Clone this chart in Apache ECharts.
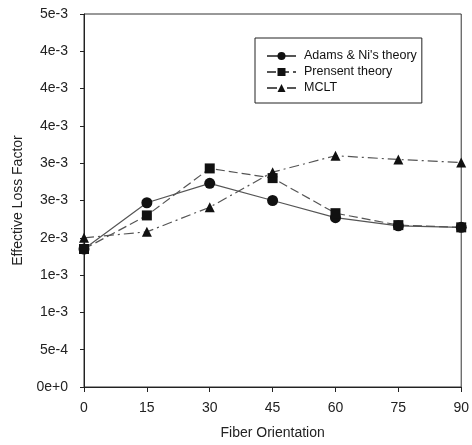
<!DOCTYPE html>
<html><head><meta charset="utf-8">
<script src="https://cdn.jsdelivr.net/npm/echarts@6/dist/echarts.min.js"></script>
<style>html,body{margin:0;padding:0;background:#fff}#c{width:472px;height:445px}</style>
</head><body><div id="c"></div>
<script>
const categories = [0, 15, 30, 45, 60, 75, 90];
const adams = [1.85e-3, 2.47e-3, 2.73e-3, 2.50e-3, 2.27e-3, 2.16e-3, 2.14e-3];
const present = [1.85e-3, 2.30e-3, 2.93e-3, 2.80e-3, 2.33e-3, 2.17e-3, 2.14e-3];
const mclt = [2.00e-3, 2.08e-3, 2.41e-3, 2.88e-3, 3.10e-3, 3.05e-3, 3.01e-3];
const yTickLabels = ['0e+0','5e-4','1e-3','1e-3','2e-3','3e-3','3e-3','4e-3','4e-3','4e-3','5e-3'];
const seriesNames = ['Adams & Ni\'s theory', 'Prensent theory', 'MCLT'];

const chart = echarts.init(document.getElementById('c'));
const font = 'Liberation Sans, Arial, sans-serif';
function mk(name, data, symbol, lineType, size) {
  return {
    name, type: 'line', data: categories.map((c, i) => [c, data[i]]),
    symbol, symbolSize: size,
    itemStyle: { color: '#111' },
    lineStyle: { color: '#555', width: 1.2, type: lineType },
    z: 2
  };
}
chart.setOption({
  animation: false,
  textStyle: { fontFamily: font },
  grid: { left: 84, top: 14, width: 378, height: 373, show: true, borderColor: '#333', borderWidth: 1, backgroundColor: 'transparent' },
  xAxis: {
    type: 'value', min: 0, max: 90, interval: 15,
    name: 'Fiber Orientation', nameLocation: 'middle', nameGap: 39,
    nameTextStyle: { fontSize: 14, color: '#222', fontFamily: font },
    axisLine: { show: true, lineStyle: { color: '#222' } },
    axisTick: { show: true, inside: false, length: 5, lineStyle: { color: '#222' } },
    axisLabel: { fontSize: 14, color: '#222', margin: 14, fontFamily: font },
    splitLine: { show: false }
  },
  yAxis: {
    type: 'value', min: 0, max: 5e-3, interval: 5e-4,
    name: 'Effective Loss Factor', nameLocation: 'middle', nameGap: 57, nameRotate: 90,
    nameTextStyle: { fontSize: 14, color: '#222', fontFamily: font },
    axisLine: { show: true, lineStyle: { color: '#222' } },
    axisTick: { show: true, length: 4, lineStyle: { color: '#222' } },
    axisLabel: { fontSize: 14, color: '#222', margin: 16, fontFamily: font,
      formatter: (v, i) => yTickLabels[i] },
    splitLine: { show: false }
  },
  legend: {
    orient: 'vertical', left: 255, top: 38,
    data: seriesNames,
    backgroundColor: '#fff', borderColor: '#222', borderWidth: 1,
    padding: [11, 5, 8, 11], itemGap: 2, itemWidth: 29, itemHeight: 10,
    textStyle: { fontSize: 12.5, lineHeight: 14, color: '#111', fontFamily: font, padding: [0, 0, 0, 3] }
  },
  series: [
    mk(seriesNames[0], adams, 'circle', 'solid', 11),
    mk(seriesNames[1], present, 'rect', [9, 4], 10),
    mk(seriesNames[2], mclt, 'triangle', [10, 4, 2, 4], 10)
  ]
});
</script></body></html>
